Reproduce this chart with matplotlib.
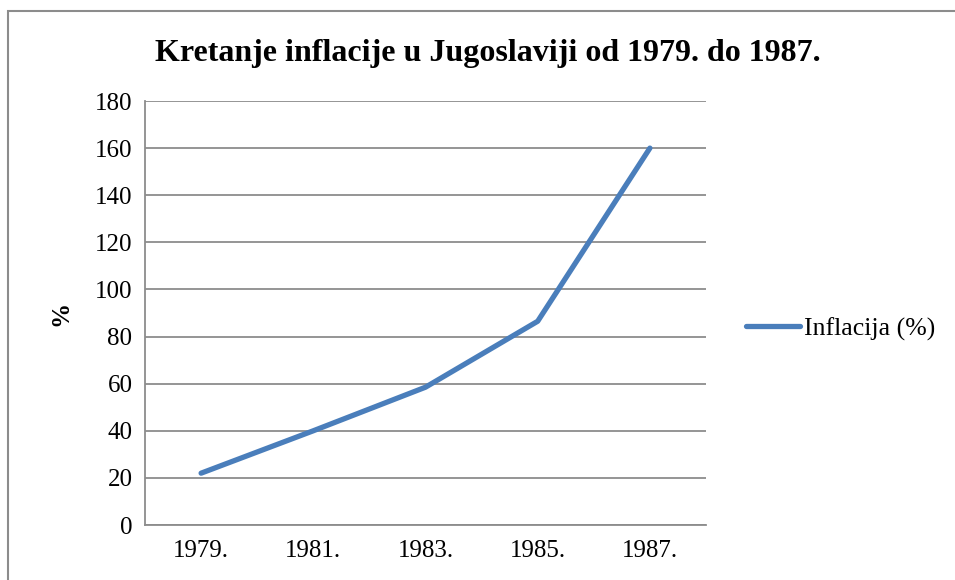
import numpy as np
import matplotlib.pyplot as plt
from matplotlib.patches import Rectangle

# data
years = ['1979.', '1981.', '1983.', '1985.', '1987.']
inflation = [22, 40, 58.5, 86.5, 160]
y_ticks = [0, 20, 40, 60, 80, 100, 120, 140, 160, 180]

plt.rcParams['font.family'] = ['Liberation Serif', 'DejaVu Serif']

fig = plt.figure(figsize=(9.55, 5.8), dpi=100)
ax = fig.add_axes([145 / 955, 1 - 525 / 580, (706 - 145) / 955, (525 - 101) / 580])

# outer chart frame (Excel style), runs off the right and bottom edges
fig.patches.append(Rectangle((8 / 955, -0.1), 1.2, 1 - 11 / 580 + 0.1,
                             transform=fig.transFigure, fill=False,
                             edgecolor='#8c8c8c', linewidth=1.5))

x = np.arange(len(years))
ax.plot(x, inflation, color='#4a7ebb', linewidth=3.8, solid_capstyle='round',
        solid_joinstyle='round', label='Inflacija (%)', zorder=3)

ax.set_xlim(-0.5, len(years) - 0.5)
ax.set_ylim(0, 180)
ax.set_xticks(x)
ax.set_xticklabels(years)
ax.set_yticks(y_ticks)
ax.tick_params(length=0, labelsize=18, pad=9)
ax.tick_params(axis='x', pad=11)
ax.grid(axis='y', color='#8c8c8c', linewidth=1.3)
ax.set_axisbelow(True)

for s in ['top', 'right']:
    ax.spines[s].set_visible(False)
for s in ['left', 'bottom']:
    ax.spines[s].set_color('#8c8c8c')
    ax.spines[s].set_linewidth(1.3)

ax.set_ylabel('%', fontsize=18, fontweight='bold', labelpad=0)
ax.yaxis.set_label_coords((72 - 145) / 561, (525 - 313) / 424)

fig.text(488 / 955, 1 - 53 / 580, 'Kretanje inflacije u Jugoslaviji od 1979. do 1987.',
         ha='center', va='center', fontsize=23, fontweight='bold')

leg = ax.legend(loc='center left', bbox_to_anchor=(1.071, 0.462), frameon=False,
                fontsize=18.5, handlelength=2.1, handletextpad=0.15, borderpad=0,
                borderaxespad=0)

fig.savefig('out.png', dpi=100)
